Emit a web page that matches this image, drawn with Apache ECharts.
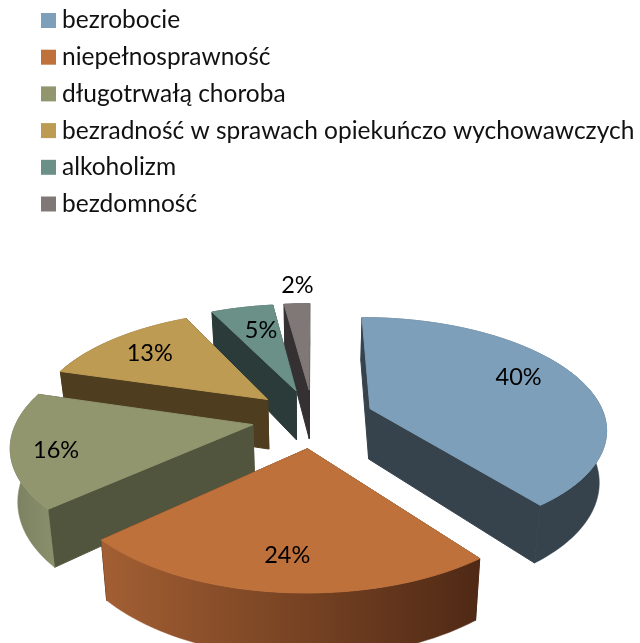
<!DOCTYPE html>
<html>
<head>
<meta charset="utf-8">
<style>html,body{margin:0;padding:0;background:#fff}#c{width:640px;height:643px}</style>
<script src="https://cdn.jsdelivr.net/npm/echarts@6/dist/echarts.min.js"></script>
</head>
<body>
<div id="c"></div>
<script>
// data
const categories = ['bezrobocie','niepełnosprawność','długotrwałą choroba','bezradność w sprawach opiekuńczo wychowawczych','alkoholizm','bezdomność'];
const percentages = [39.6,23.6,16.4,13.2,5.1,2.1];
// styles
const topColors = ['#7e9fb9','#bf713b','#91966f','#bd9b52','#6a9088','#7f7877'];
const cutColors = ['#36434d','#4f2915','#52553e','#4f3d20','#2b3b39','#353031'];
const wallStops = [['#36434d','#36434d'],['#a35f33','#4f2915'],['#7a7f5f','#8a8f6c'],['#4f3d20','#4f3d20'],['#2b3b39','#2b3b39'],['#353031','#353031']];
const paintOrder = [5,6,4,3,2,1];
// label spots: [radius fraction, clock angle] in the slice's own plane
const labelSpots = [[.75,66],[.78,185],[.82,254],[.746,310],[.695,345],[1.257,357]];
// projection of the exploded, tilted disc
const CX=313, CY=418, RX=235, RY=109, PERSP=.165, EX=.26, EY=.27, DEPTH=51, SHRINK=.975;
const FONT='"Lato","Carlito",sans-serif';
const total = percentages.reduce((a,b)=>a+b,0);
function project(U,V,down){
  const s=1/(1-PERSP*V);
  const k=down?SHRINK:1;
  return [CX+RX*U*s*k, CY+RY*V*s+(down?DEPTH*s:0)];
}
function renderSlice(i){
  return function(params,api){
    const val=api.value(0);
    const before=percentages.slice(0,i).reduce((a,b)=>a+b,0);
    const a0=before/total*Math.PI*2, a1=(before+val)/total*Math.PI*2, mid=(a0+a1)/2;
    const ox=EX*Math.sin(mid), oy=-EY*Math.cos(mid);
    const pt=(r,a,down)=>project(ox+r*Math.sin(a),oy-r*Math.cos(a),down);
    const steps=Math.max(8,Math.ceil(val*2));
    const arc=[],arcDown=[];
    for(let n=0;n<=steps;n++){const a=a0+(a1-a0)*n/steps;arc.push(pt(1,a,false));arcDown.push(pt(1,a,true));}
    const apex=pt(0,0,false), apexDown=pt(0,0,true);
    const poly=(points,fill,width)=>({type:'polygon',shape:{points},style:{fill,stroke:fill,lineWidth:width},silent:true});
    const wallFill=new echarts.graphic.LinearGradient(0,0,1,0,[{offset:0,color:wallStops[i][0]},{offset:1,color:wallStops[i][1]}]);
    const children=[
      poly([apex,arc[0],arcDown[0],apexDown],cutColors[i],1),
      poly([apex,arc[steps],arcDown[steps],apexDown],cutColors[i],1),
      poly(arc.concat(arcDown.slice().reverse()),wallFill,.5),
      poly([apex].concat(arc),topColors[i],1)
    ];
    const spot=labelSpots[i], la=spot[1]*Math.PI/180;
    const lp=pt(spot[0],la,false);
    children.push({type:'text',silent:true,style:{text:Math.round(val)+'%',x:lp[0],y:lp[1],fill:'#000',font:'23.5px '+FONT,align:'center',verticalAlign:'middle'}});
    return {type:'group',children};
  };
}
const chart=echarts.init(document.getElementById('c'),null,{renderer:'canvas'});
chart.setOption({
  animation:false,
  backgroundColor:'#fff',
  legend:{
    show:true,orient:'vertical',left:36,top:3,selectedMode:false,
    data:categories,icon:'rect',itemWidth:15,itemHeight:15,itemGap:11.7,
    textStyle:{fontFamily:FONT,fontSize:24.5,lineHeight:22,color:'#111',padding:[0,0,0,1]}
  },
  series:categories.map((name,i)=>({
    type:'custom',name,coordinateSystem:'none',z:2+paintOrder[i],
    itemStyle:{color:topColors[i]},
    renderItem:renderSlice(i),
    data:[[percentages[i]]]
  }))
});
</script>
</body>
</html>
